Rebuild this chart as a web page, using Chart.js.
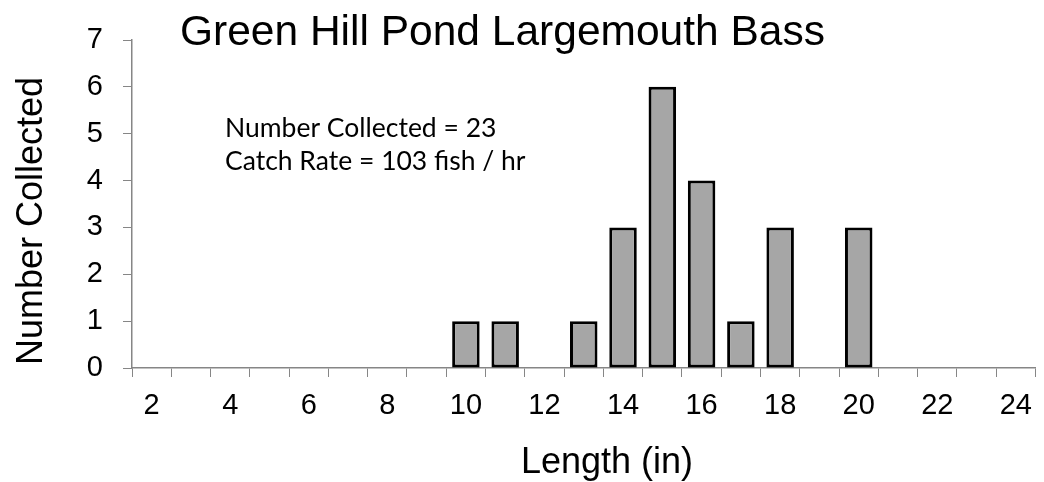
<!DOCTYPE html>
<html>
<head>
<meta charset="utf-8">
<script src="https://cdn.jsdelivr.net/npm/chart.js@4.4.0/dist/chart.umd.min.js"></script>
<style>
  html, body { margin: 0; padding: 0; background: #fff; overflow: hidden; }
  #wrap { width: 1044px; height: 482px; position: relative; }
</style>
</head>
<body>
<div id="wrap"><canvas id="lengthChart"></canvas></div>
<script>
// length classes (in) and fish counted in each
const lengths = [2, 3, 4, 5, 6, 7, 8, 9, 10, 11, 12, 13, 14, 15, 16, 17, 18, 19, 20, 21, 22, 23, 24];
const counts  = [0, 0, 0, 0, 0, 0, 0, 0, 1, 1, 0, 1, 3, 6, 4, 1, 3, 0, 3, 0, 0, 0, 0];
const yTicks  = [0, 1, 2, 3, 4, 5, 6, 7];

const chartTitle = "Green Hill Pond Largemouth Bass";
const xTitle = "Length (in)";
const yTitle = "Number Collected";
const noteLines = ["Number Collected = 23", "Catch Rate = 103 fish / hr"];

const AXIS_GREY = '#868686';

// titles + note drawn by hand so they sit where the original has them
const textPlugin = {
    id: 'chartText',
    afterDraw(chart) {
        const ctx = chart.ctx;
        ctx.save();
        ctx.fillStyle = '#000';

        ctx.font = '42.5px "Liberation Sans", Arial, sans-serif';
        ctx.textAlign = 'left';
        ctx.textBaseline = 'alphabetic';
        ctx.fillText(chartTitle, 180, 45);

        ctx.font = '36px "Liberation Sans", Arial, sans-serif';
        ctx.textAlign = 'center';
        ctx.fillText(xTitle, 607, 473);

        ctx.save();
        ctx.translate(42, 221);
        ctx.rotate(-Math.PI / 2);
        ctx.fillText(yTitle, 0, 0);
        ctx.restore();

        ctx.font = '26.5px Lato, "Open Sans", sans-serif';
        ctx.textAlign = 'left';
        ctx.fillText(noteLines[0], 225, 137);
        ctx.fillText(noteLines[1], 225, 170);
        ctx.restore();
    }
};

new Chart(document.getElementById('lengthChart'), {
    type: 'bar',
    data: {
        labels: lengths,
        datasets: [{
            data: counts,
            backgroundColor: '#a6a6a6',
            borderColor: '#000',
            borderWidth: 3,
            borderSkipped: false,
            barPercentage: 0.7,
            categoryPercentage: 1.0
        }]
    },
    options: {
        responsive: true,
        maintainAspectRatio: false,
        animation: false,
        events: [],
        layout: { padding: { top: 40, right: 1, left: 0, bottom: 0 } },
        plugins: {
            legend: { display: false },
            tooltip: { enabled: false }
        },
        scales: {
            x: {
                grid: {
                    offset: true,
                    drawOnChartArea: false,
                    drawTicks: true,
                    tickLength: 9,
                    color: AXIS_GREY
                },
                border: { color: AXIS_GREY, width: 1.5 },
                ticks: {
                    autoSkip: false,
                    maxRotation: 0,
                    padding: 12,
                    color: '#000',
                    font: { family: '"Liberation Sans", Arial, sans-serif', size: 29 },
                    callback: function (val, i) {
                        const v = lengths[i];
                        return v % 2 === 0 ? String(v) : '';
                    }
                },
                afterFit(scale) { scale.height = 114; }
            },
            y: {
                min: yTicks[0],
                max: yTicks[yTicks.length - 1],
                afterBuildTicks(scale) {
                    scale.ticks = yTicks.map(v => ({ value: v }));
                },
                grid: {
                    drawOnChartArea: false,
                    drawTicks: true,
                    tickLength: 9,
                    color: AXIS_GREY
                },
                border: { color: AXIS_GREY, width: 1.5 },
                ticks: {
                    padding: 20,
                    color: '#000',
                    font: { family: '"Liberation Sans", Arial, sans-serif', size: 29 }
                },
                afterFit(scale) { scale.width = 132; }
            }
        }
    },
    plugins: [textPlugin]
});
</script>
</body>
</html>
